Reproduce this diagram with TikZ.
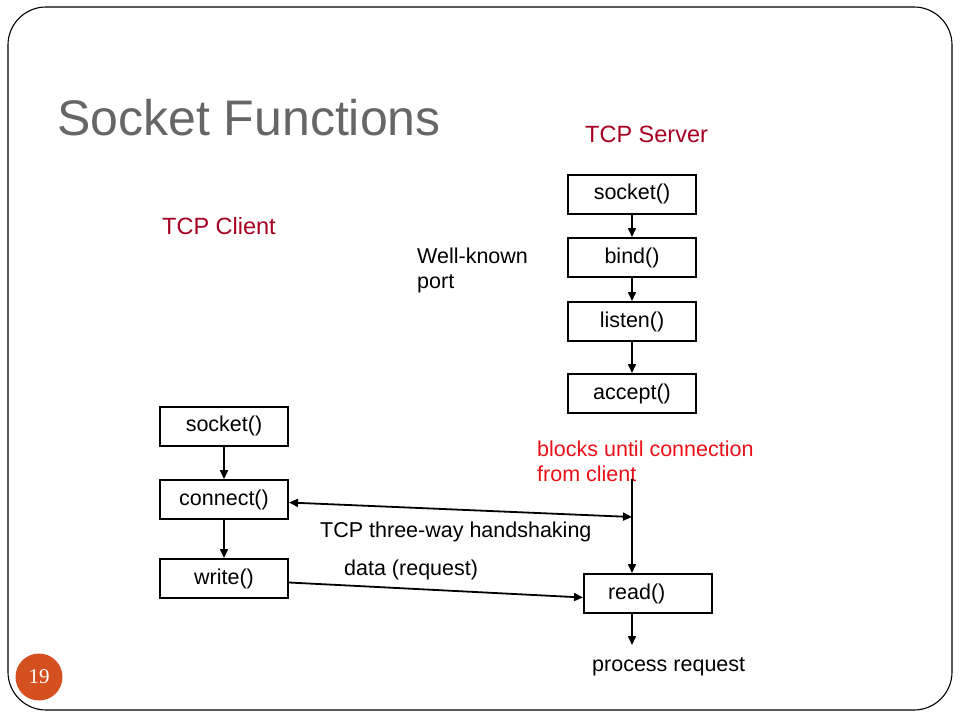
\documentclass[tikz,border=0pt]{standalone}
\usepackage{fontspec}
\setmainfont{Liberation Sans}
\newfontfamily\numfont{Liberation Serif}
\usetikzlibrary{arrows.meta}
\definecolor{titlegray}{RGB}{102,102,102}
\definecolor{headred}{RGB}{165,0,33}
\definecolor{notered}{RGB}{235,16,24}
\definecolor{pageorange}{RGB}{212,80,30}
\tikzset{fn/.style={draw, line width=2pt, minimum width=128pt, minimum height=39pt, inner sep=0pt, font=\fontsize{21.5}{25}\selectfont},
  txt/.style={inner sep=0pt, font=\fontsize{21.5}{25}\selectfont, align=left},
  go/.style={line width=1.8pt, -{Triangle[length=9pt,width=8pt]}}}

\begin{document}
\begin{tikzpicture}[x=1pt,y=-1pt]
   \useasboundingbox (0,0) rectangle (960,720);
   \draw[line width=1.1pt, rounded corners=38pt] (8,7) rectangle (952,710);
   \node[inner sep=0pt, anchor=base west, text=titlegray, font=\fontsize{50}{58}\selectfont] (title) at (57,135) {Socket Functions};
   \node[fill=pageorange, circle, minimum size=47pt, inner sep=0pt, text=white, font=\numfont\fontsize{21}{24}\selectfont] (page) at (39,677) {19};
   % server side
   \node[txt, anchor=base west, text=headred, font=\fontsize{23.5}{28}\selectfont] (srv) at (585,142) {TCP Server};
   \node[fn] (ssock) at (632,194) {socket()};
   \node[fn] (sbind) at (632,257.5) {bind()};
   \node[fn] (slisten) at (632,321.5) {listen()};
   \node[fn] (saccept) at (632,393.5) {accept()};
   \node[fn, text width=80pt, inner xsep=24pt, align=left] (sread) at (648,593.5) {read()};
   \node[txt, anchor=north west] (port) at (417,248) {Well-known\\port};
   \node[txt, anchor=north west, text=notered] (blk) at (537,441) {blocks until connection\\from client};
   \coordinate (wait) at (632,479);
   \coordinate (hs) at (632,517);
   \coordinate (done) at (632,645);
   \node[txt, anchor=base west] (proc) at (592,671) {process request};
   % client side
   \node[txt, anchor=base west, text=headred, font=\fontsize{23.5}{28}\selectfont] (cli) at (162,234) {TCP Client};
   \node[fn] (csock) at (224,426) {socket()};
   \node[fn] (cconn) at (224,499.5) {connect()};
   \node[fn] (cwrite) at (224,578.5) {write()};
   \node[txt, anchor=base west] (hslab) at (320,537) {TCP three-way handshaking};
   \node[txt, anchor=base west] (datlab) at (344,575) {data (request)};

   \draw[go] (ssock) -- (sbind);
   \draw[go] (sbind) -- (slisten);
   \draw[go] (slisten) -- (saccept);
   \draw[go] (wait) -- (wait |- sread.north);
   \draw[go] (sread.south -| wait) -- (done);
   \draw[go] (csock) -- (cconn);
   \draw[go] (cconn) -- (cwrite);
   \draw[line width=1.8pt, {Triangle[length=9pt,width=8pt]}-{Triangle[length=9pt,width=8pt]}] ([yshift=-3pt]cconn.east) -- (hs);
   \draw[go] ([yshift=-4pt]cwrite.east) -- ([yshift=-4pt]sread.west);
  \end{tikzpicture}
\end{document}
